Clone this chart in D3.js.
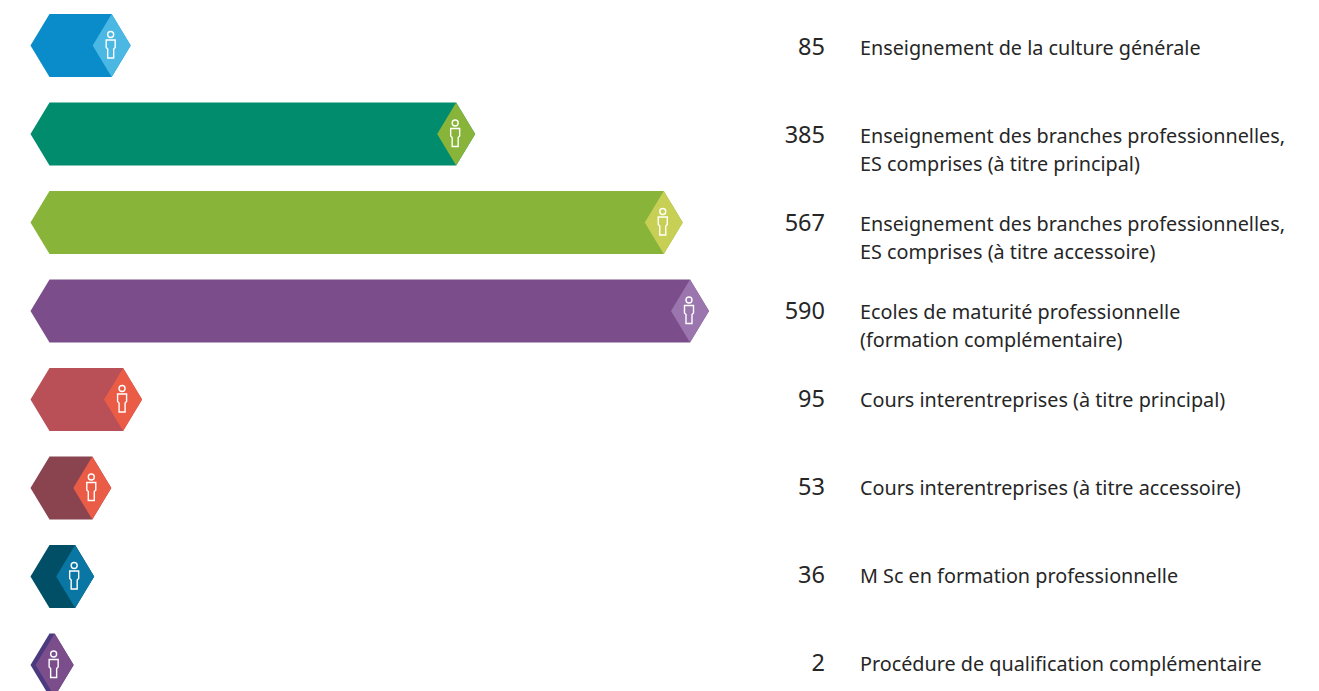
<!DOCTYPE html>
<html>
<head>
<meta charset="utf-8">
<script src="https://cdn.jsdelivr.net/npm/d3@7"></script>
<style>
  html, body { margin: 0; background: #fff; }
  text { font-family: "Noto Sans", sans-serif; fill: #262626; }
</style>
</head>
<body>
<script>
// numbers as printed next to the bars
const counts = [85, 385, 567, 590, 95, 53, 36, 2];
// length of each bar as drawn, the short ones are longer than their number
const barLengths = [83, 385, 567, 590, 93, 66, 51, 33];
const labels = [
  ["Enseignement de la culture générale"],
  ["Enseignement des branches professionnelles,", "ES comprises (à titre principal)"],
  ["Enseignement des branches professionnelles,", "ES comprises (à titre accessoire)"],
  ["Ecoles de maturité professionnelle", "(formation complémentaire)"],
  ["Cours interentreprises (à titre principal)"],
  ["Cours interentreprises (à titre accessoire)"],
  ["M Sc en formation professionnelle"],
  ["Procédure de qualification complémentaire"]
];
const barColors = ["#0a8ccb", "#008c6d", "#88b43a", "#7b4e8b", "#b94f57", "#8a4450", "#004f66", "#4c3a80"];
const tipColors = ["#4bb8e4", "#88b43a", "#c7d055", "#9b75ad", "#ea5c46", "#ea5c46", "#0a76a3", "#7b4e8b"];

const width = 1319, height = 691;
const barH = 63, slant = 19, tipLeft = 30.5;

const svg = d3.select("body").append("svg")
  .attr("width", width)
  .attr("height", height)
  .style("display", "block");

const x = d3.scaleLinear().domain([0, 590]).range([17, 690]);
// bars and text sit on slightly different pitches in the original
const yBar = d3.scaleLinear().domain([0, 7]).range([14, 633.5]);
const yText = d3.scaleLinear().domain([0, 7]).range([55, 671]);

const rowData = counts.map(function(d, i) {
  return { i: i, count: d, len: barLengths[i], label: labels[i] };
});

const bars = svg.selectAll(".bar")
  .data(rowData)
  .enter()
    .append("g")
    .attr("class", "bar")
    .attr("transform", function(d) { return "translate(0," + yBar(d.i) + ")"; });

// hexagon body
bars.append("path")
  .attr("fill", function(d) { return barColors[d.i]; })
  .attr("d", function(d) {
    const r = x(d.len);
    return "M" + tipLeft + "," + barH / 2 + "L" + (tipLeft + slant) + ",0L" + r + ",0L" + (r + slant) + "," + barH / 2
      + "L" + r + "," + barH + "L" + (tipLeft + slant) + "," + barH + "Z";
  });

// lighter diamond at the end
bars.append("path")
  .attr("fill", function(d) { return tipColors[d.i]; })
  .attr("d", function(d) {
    const r = x(d.len);
    return "M" + (r - slant) + "," + barH / 2 + "L" + r + ",0L" + (r + slant) + "," + barH / 2 + "L" + r + "," + barH + "Z";
  });

// person icon
const icon = bars.append("g")
  .attr("transform", function(d) { return "translate(" + (x(d.len) - 1) + "," + barH / 2 + ")"; })
  .attr("fill", "none")
  .attr("stroke", "#fff")
  .attr("stroke-width", 1.4);
icon.append("circle").attr("cy", -11).attr("r", 3);
icon.append("path").attr("d", "M-4.5,-5.5H4.5V2L3,3.5V12.5H-3V3.5L-4.5,2Z");

const rows = svg.selectAll(".row")
  .data(rowData)
  .enter()
    .append("g")
    .attr("class", "row")
    .attr("transform", function(d) { return "translate(0," + yText(d.i) + ")"; });

rows.append("text")
  .attr("x", 825)
  .attr("text-anchor", "end")
  .style("font-size", "23.5px")
  .text(function(d) { return d.count; });

rows.append("text")
  .style("font-size", "19.8px")
  .selectAll("tspan")
  .data(function(d) { return d.label; })
  .enter()
    .append("tspan")
    .attr("x", 860)
    .attr("y", function(d, i) { return i * 27.5; })
    .text(function(d) { return d; });
</script>
</body>
</html>
